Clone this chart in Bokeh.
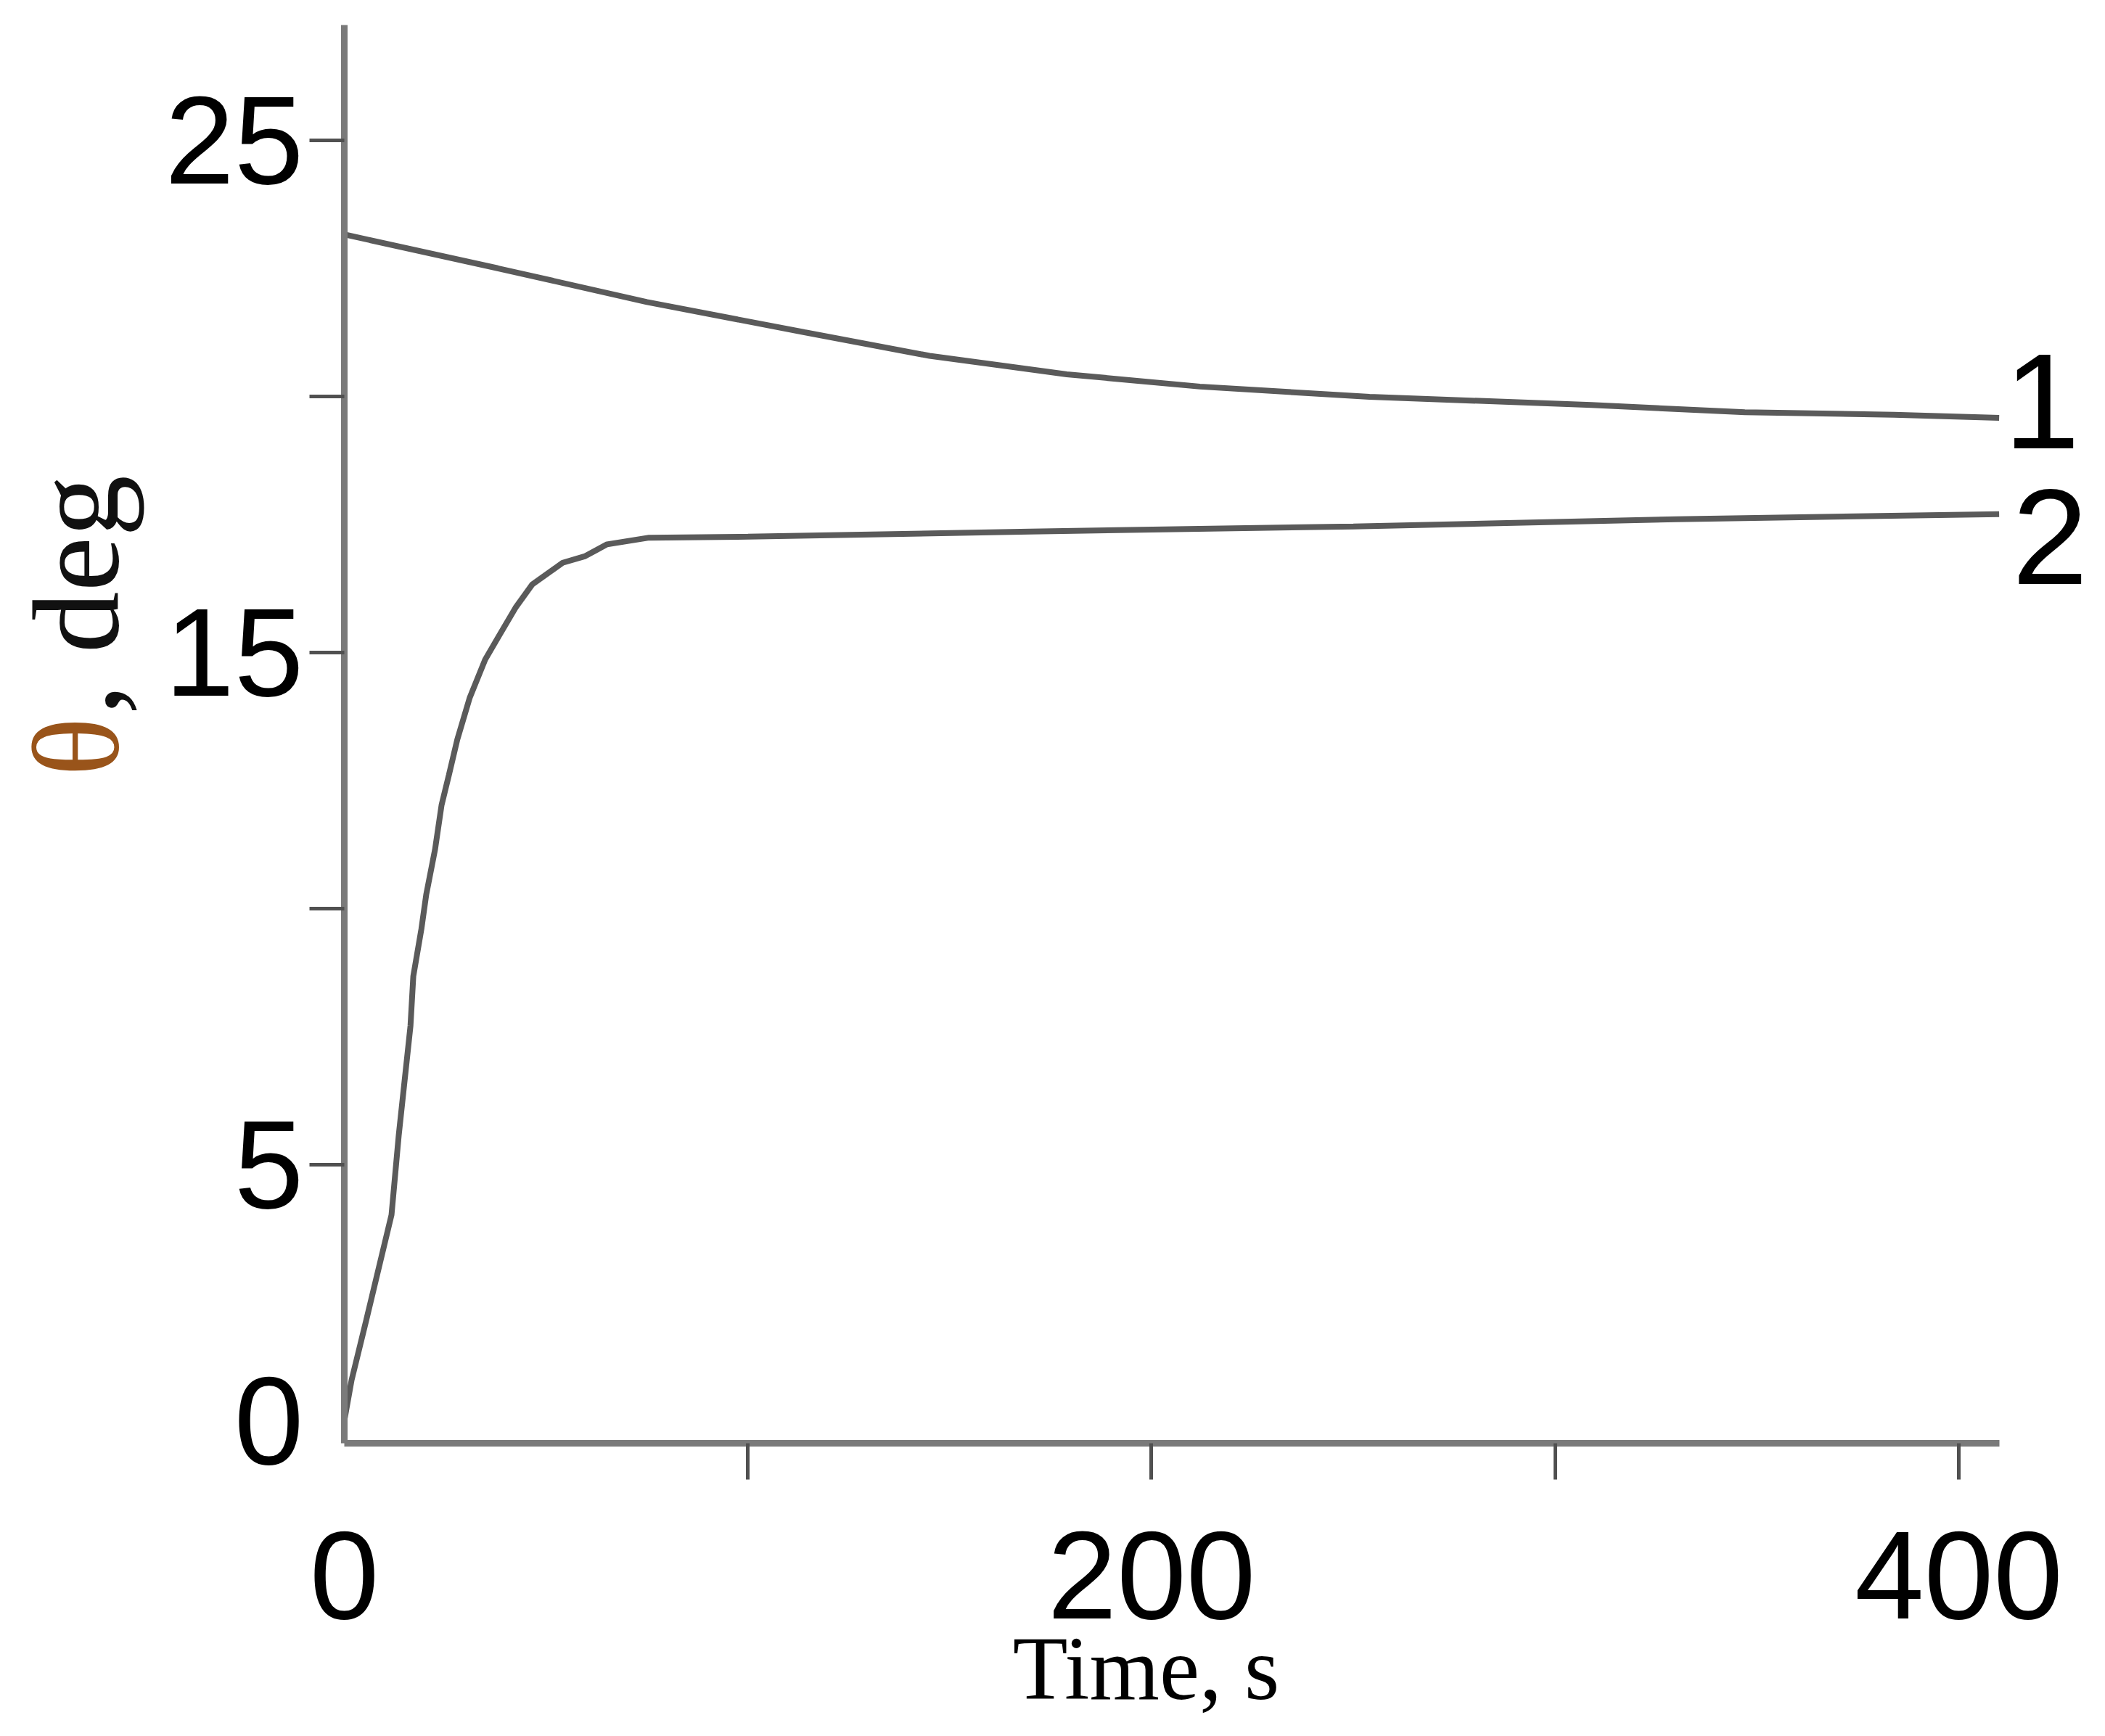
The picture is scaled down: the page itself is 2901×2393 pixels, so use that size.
import math

from bokeh.embed import file_html
from bokeh.models import FixedTicker, Label
from bokeh.plotting import figure
from bokeh.resources import INLINE

# curve 1
t1 = [0, 38, 75, 114, 145, 179, 212, 254, 309, 347, 384, 410]
theta1 = [23.16, 22.5, 21.84, 21.25, 20.79, 20.43, 20.19, 19.99, 19.83, 19.69, 19.64, 19.58]

# curve 2
t2 = [0, 1.8, 5.4, 11.7, 13.5, 16.4, 17.1, 19.1, 20.3, 22.5, 24.1, 25.9, 28.0, 31.1,
      34.9, 38.3, 42.4, 46.6, 54.1, 59.7, 65.1, 75.5, 100, 170, 250, 330, 410]
theta2 = [0, 0.79, 1.95, 4.02, 5.58, 7.71, 8.68, 9.60, 10.27, 11.16, 12.02, 12.60, 13.30, 14.12,
          14.86, 15.32, 15.87, 16.33, 16.75, 16.88, 17.11, 17.24, 17.26, 17.36, 17.46, 17.60, 17.70]

x_labelled = [0, 200, 400]
x_marks = [100, 200, 300, 400]
y_labelled = [0, 5, 15, 25]
y_marks = [5, 10, 15, 20, 25]

SANS = "'Liberation Sans', Arial, sans-serif"
SERIF = "'Liberation Serif', serif"
LINE = "#5a5a5a"
AXIS = "#7a7a7a"

# the frame covers the whole canvas, the axes sit at fixed places inside it
p = figure(width=2885, height=2377, title=None,
           x_range=(-85.21, 433.44), y_range=(-5.935, 27.73),
           min_border=0, output_backend="svg", toolbar_location=None)
p.grid.visible = False
p.outline_line_color = None
p.background_fill_color = "white"
p.border_fill_color = "white"

p.line(t1, theta1, line_color=LINE, line_width=8)
p.line(t2, theta2, line_color=LINE, line_width=8)

p.xaxis.fixed_location = -0.44
p.xaxis.bounds = (0, 410)
p.yaxis.fixed_location = 0
p.yaxis.bounds = (-0.44, 27.25)

p.xaxis.ticker = FixedTicker(ticks=x_labelled, minor_ticks=x_marks)
p.yaxis.ticker = FixedTicker(ticks=y_labelled, minor_ticks=y_marks)

for ax, out, standoff in ((p.xaxis, 50, 72), (p.yaxis, 48, 8)):
    ax.axis_line_color = AXIS
    ax.axis_line_width = 9
    ax.major_tick_line_color = None
    ax.major_tick_out = out
    ax.major_tick_in = 0
    ax.minor_tick_line_color = "#505050"
    ax.minor_tick_line_width = 5
    ax.minor_tick_out = out
    ax.minor_tick_in = 0
    ax.major_label_standoff = standoff
    ax.major_label_text_font = SANS
    ax.major_label_text_font_size = "172px"
    ax.major_label_text_color = "black"

# curve numbers
p.add_layout(Label(x=420.6, y=19.9, text="1", text_font=SANS, text_font_size="188px",
                   text_align="center", text_baseline="middle", text_color="black"))
p.add_layout(Label(x=422.6, y=17.25, text="2", text_font=SANS, text_font_size="188px",
                   text_align="center", text_baseline="middle", text_color="black"))

# axis titles
p.add_layout(Label(x=198.65, y=-4.84, text="Time, s", text_font=SERIF, text_font_size="124px",
                   text_align="center", text_baseline="alphabetic", text_color="black"))
p.add_layout(Label(x=-66.35, y=12.58, text="θ", angle=math.pi / 2, text_font=SERIF,
                   text_font_size="170px", text_align="left", text_baseline="alphabetic",
                   text_color="#99541a"))
p.add_layout(Label(x=-66.35, y=13.78, text=", deg", angle=math.pi / 2, text_font=SERIF,
                   text_font_size="170px", text_align="left", text_baseline="alphabetic",
                   text_color="#111111"))

open("out.html", "w").write(file_html(p, INLINE))
